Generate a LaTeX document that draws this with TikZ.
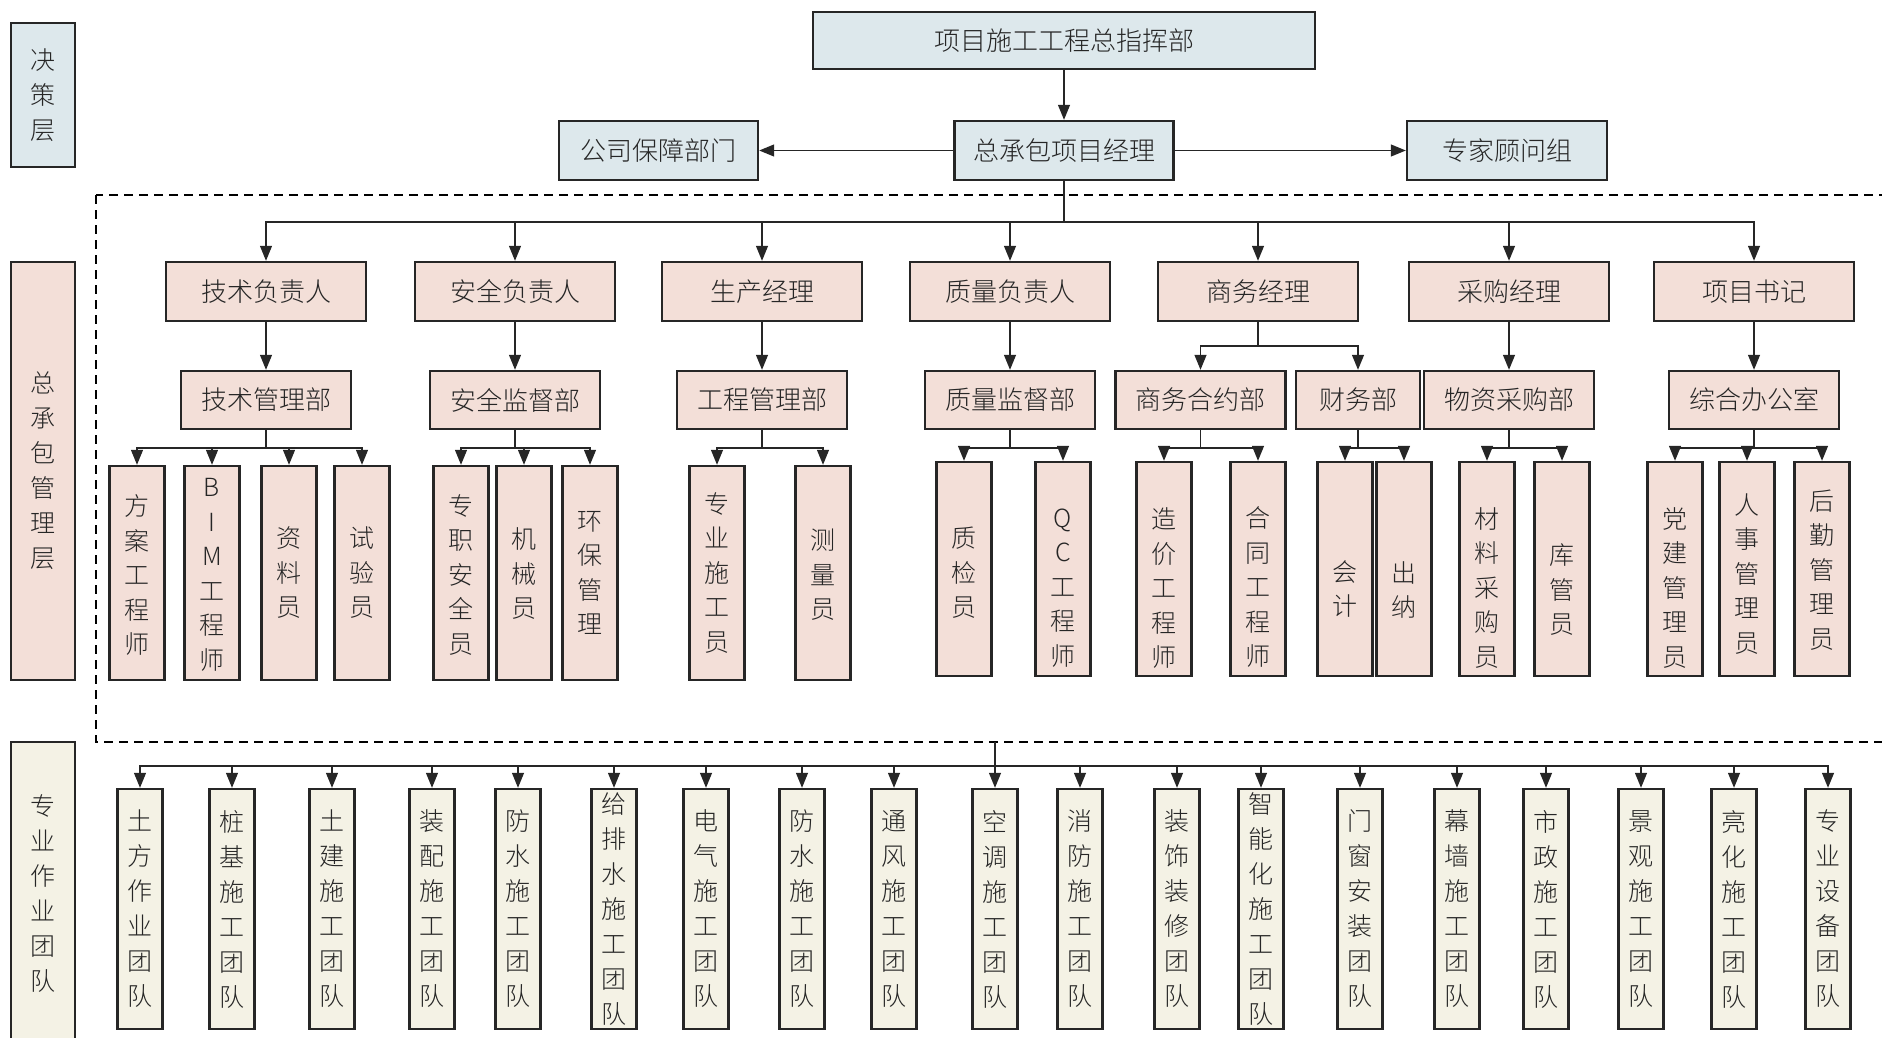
\documentclass[tikz,border=0pt]{standalone}
\usepackage{fontspec}
\newfontfamily\cjk{Noto Sans CJK SC Light}
\usetikzlibrary{arrows.meta}

\definecolor{deckblue}{HTML}{DDE8EC}
\definecolor{mgrpink}{HTML}{F3DFD8}
\definecolor{teamcream}{HTML}{F4F2E5}

\tikzset{
  box/.style={draw=black!85, line width=2.4pt, inner sep=0pt, text=black!85,
    font=\cjk\fontsize{26}{30}\selectfont},
  headbox/.style={box, fill=deckblue, minimum height=59pt},
  mgrbox/.style={box, fill=mgrpink, minimum width=200pt, minimum height=59pt},
  deptbox/.style={box, fill=mgrpink, minimum width=170pt, minimum height=58pt},
  rolebox/.style={box, fill=mgrpink, minimum width=55pt, minimum height=214pt},
  roletext/.style={inner sep=0pt, text=black!85, align=center,
    font=\cjk\fontsize{25}{34.5}\selectfont},
  teambox/.style={box, fill=teamcream, minimum width=45pt, minimum height=240pt,
    align=center, font=\cjk\fontsize{25}{35}\selectfont},
  layerbox/.style={box, minimum width=64pt, align=center,
    font=\cjk\fontsize{25}{35}\selectfont},
  link/.style={draw=black!85, line width=1.3pt},
  arr/.style={link, -{Triangle[length=15pt,width=12pt]}},
  frame/.style={draw=black, line width=2.2pt, dash pattern=on 9pt off 6pt}
}

\begin{document}
\begin{tikzpicture}[x=1pt,y=-1pt]
\useasboundingbox (0,0) rectangle (1882,1038);

% layers
\node[layerbox, fill=deckblue, minimum height=144pt] (lay1) at (43,95) {决\\策\\层};
\node[layerbox, fill=mgrpink, minimum height=418pt] (lay2) at (43,471) {总\\承\\包\\管\\理\\层};
\node[layerbox, fill=teamcream, minimum height=304pt] (lay3) at (43,894) {专\\业\\作\\业\\团\\队};

% top
\node[headbox, minimum width=502pt, minimum height=57pt] (cmd) at (1064,40.5) {项目施工工程总指挥部};
\node[headbox, minimum width=219pt] (pm) at (1064,150.5) {总承包项目经理};
\node[headbox, minimum width=199pt] (corp) at (658.5,150.5) {公司保障部门};
\node[headbox, minimum width=200pt] (expert) at (1507,150.5) {专家顾问组};
\draw[arr] (cmd) -- (pm);
\draw[arr] (pm) -- (corp);
\draw[arr] (pm) -- (expert);

\draw[frame] (96,195) rectangle (1900,742);

% managers
\foreach \n/\x/\t in {tech/266/技术负责人, safe/515/安全负责人, prod/762/生产经理,
    qual/1010/质量负责人, biz/1258/商务经理, buy/1509/采购经理, sec/1754/项目书记}
  \node[mgrbox] (\n) at (\x,291.5) {\t};
\coordinate (bus1) at (1064,222);
\draw[link] (pm) -- (bus1);
\foreach \n in {tech,safe,prod,qual,biz,buy,sec}
  \draw[arr] (bus1) -| (\n);

% departments
\foreach \n/\x/\t in {techd/266/技术管理部, safed/515/安全监督部, prodd/762/工程管理部,
    quald/1010/质量监督部, buyd/1509/物资采购部, secd/1754/综合办公室}
  \node[deptbox] (\n) at (\x,400) {\t};
\node[deptbox] (bizd) at (1200.5,400) {商务合约部};
\node[deptbox, minimum width=124pt] (find) at (1358,400) {财务部};
\foreach \a/\b in {tech/techd, safe/safed, prod/prodd, qual/quald, buy/buyd, sec/secd}
  \draw[arr] (\a) -- (\b);
\coordinate (bizbus) at (1258,346);
\draw[link] (biz) -- (bizbus);
\draw[arr] (bizbus) -| (bizd);
\draw[arr] (bizbus) -| (find);

% roles
\foreach \d in {techd,safed,prodd,quald,bizd,find,buyd,secd}
  \draw[link] (\d) -- (\d.south |- 0,448);
\foreach \d/\n/\x/\y/\o/\t in {
    techd/r1/137/573/-2/{方\\案\\工\\程\\师}, techd/r2/212/573/-2/{B\\I\\M\\工\\程\\师},
    techd/r3/289/573/0/{资\\料\\员}, techd/r4/362/573/0/{试\\验\\员},
    safed/r5/461/573/-2/{专\\职\\安\\全\\员}, safed/r6/524/573/-1/{机\\械\\员},
    safed/r7/590/573/0/{环\\保\\管\\理},
    prodd/r8/717/573/0/{专\\业\\施\\工\\员}, prodd/r9/823/573/-2/{测\\量\\员},
    quald/r10/964/569/-4/{质\\检\\员}, quald/r11/1063/569/-19/{Q\\C\\工\\程\\师},
    bizd/r12/1164/569/-19/{造\\价\\工\\程\\师}, bizd/r13/1258/569/-18/{合\\同\\工\\程\\师},
    find/r14/1345/569/-20/{会\\计}, find/r15/1404/569/-21/{出\\纳},
    buyd/r16/1487/569/-19/{材\\料\\采\\购\\员}, buyd/r17/1562/569/-21/{库\\管\\员},
    secd/r18/1675/569/-19/{党\\建\\管\\理\\员}, secd/r19/1747/569/-5/{人\\事\\管\\理\\员},
    secd/r20/1822/569/-1/{后\\勤\\管\\理\\员}}
{
  \node[rolebox] (\n) at (\x,\y) {};
  \node[roletext] (\n txt) at ([yshift=\o pt]\n.center) {\t};
  \draw[arr] (\d.south |- 0,448) -| (\n);
}

% teams
\coordinate (tap) at (995,742);
\coordinate (tbus) at (995,766);
\draw[link] (tap) -- (tbus);
\foreach \n/\x/\t in {
    ta/140/{土\\方\\作\\业\\团\\队}, tb/232/{桩\\基\\施\\工\\团\\队},
    tc/332/{土\\建\\施\\工\\团\\队}, td/432/{装\\配\\施\\工\\团\\队},
    te/518/{防\\水\\施\\工\\团\\队}, tf/614/{给\\排\\水\\施\\工\\团\\队},
    tg/706/{电\\气\\施\\工\\团\\队}, th/802/{防\\水\\施\\工\\团\\队},
    ti/894/{通\\风\\施\\工\\团\\队}, tj/995/{空\\调\\施\\工\\团\\队},
    tk/1080/{消\\防\\施\\工\\团\\队}, tl/1177/{装\\饰\\装\\修\\团\\队},
    tm/1261/{智\\能\\化\\施\\工\\团\\队}, tn/1360/{门\\窗\\安\\装\\团\\队},
    to/1457/{幕\\墙\\施\\工\\团\\队}, tp/1546/{市\\政\\施\\工\\团\\队},
    tq/1641/{景\\观\\施\\工\\团\\队}, tr/1734/{亮\\化\\施\\工\\团\\队},
    ts/1828/{专\\业\\设\\备\\团\\队}}
{
  \node[teambox] (\n) at (\x,909) {\t};
  \draw[arr] (tbus) -| (\n);
}
\end{tikzpicture}
\end{document}
